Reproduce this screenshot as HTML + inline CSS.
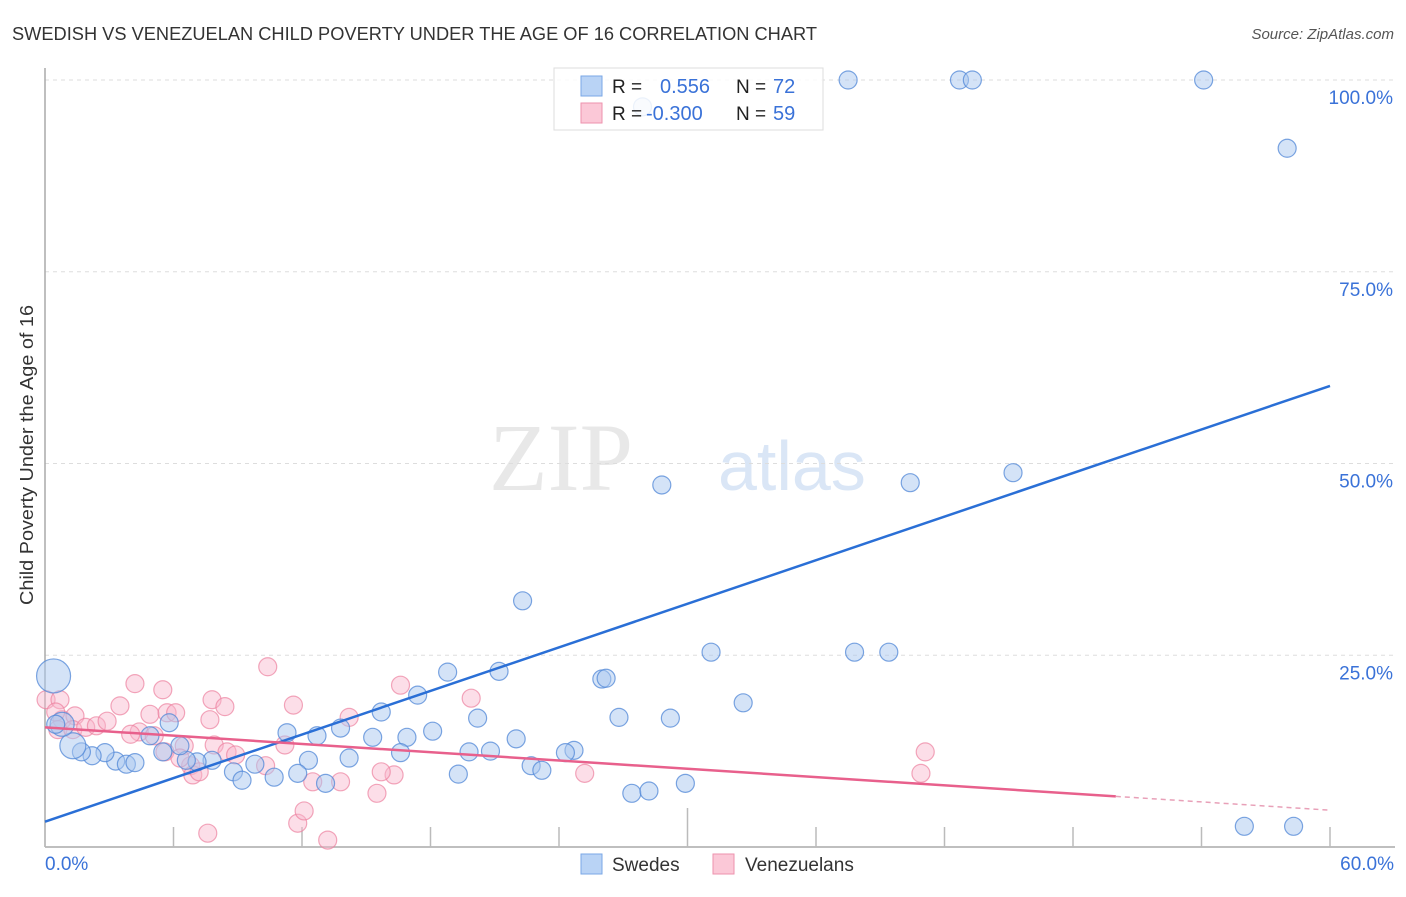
<!DOCTYPE html>
<html><head><meta charset="utf-8"><style>
body{margin:0;background:#fff;font-family:"Liberation Sans",sans-serif}
#c{position:relative;width:1406px;height:892px}
</style></head><body>
<div id="c">
<svg id="s" width="1406" height="892" xmlns="http://www.w3.org/2000/svg">
<text x="12" y="40" font-size="18" fill="#333" textLength="805" lengthAdjust="spacingAndGlyphs">SWEDISH VS VENEZUELAN CHILD POVERTY UNDER THE AGE OF 16 CORRELATION CHART</text>
<text x="1394" y="39" font-size="15" fill="#555" font-style="italic" text-anchor="end">Source: ZipAtlas.com</text>
<text x="633" y="490" font-size="96" fill="#e8e8e8" font-family="Liberation Serif" text-anchor="end">ZIP</text>
<text x="718" y="490" font-size="70" fill="#dae6f6">atlas</text>
<g id="grid"></g>
<line x1="45" y1="68" x2="45" y2="847" stroke="#aaa" stroke-width="1.5"/>
<line x1="45" y1="847" x2="1395" y2="847" stroke="#aaa" stroke-width="1.5"/>
<g id="ticks"></g>
<g id="pts"></g>
<g id="lines"></g>
<text x="33" y="455" font-size="18" fill="#333" text-anchor="middle" textLength="300" lengthAdjust="spacingAndGlyphs" transform="rotate(-90 33 455)">Child Poverty Under the Age of 16</text>
<text x="45" y="870" font-size="19" fill="#3a72d8">0.0%</text>
<text x="1394" y="870" font-size="19" fill="#3a72d8" text-anchor="end">60.0%</text>
<g>
<rect x="554" y="68" width="269" height="62" fill="rgba(255,255,255,0.85)" stroke="#ddd"/>
<rect x="581" y="76" width="21" height="20" fill="#b9d3f5" stroke="#7aa7e6"/>
<rect x="581" y="103" width="21" height="20" fill="#fbc8d7" stroke="#ee92ad"/>
<text x="612" y="93" font-size="19" fill="#222">R =</text>
<text x="660" y="93" font-size="20" fill="#3a72d8">0.556</text>
<text x="736" y="93" font-size="19" fill="#222">N =</text>
<text x="773" y="93" font-size="20" fill="#3a72d8">72</text>
<text x="612" y="120" font-size="19" fill="#222">R =</text>
<text x="646" y="120" font-size="20" fill="#3a72d8">-0.300</text>
<text x="736" y="120" font-size="19" fill="#222">N =</text>
<text x="773" y="120" font-size="20" fill="#3a72d8">59</text>
</g>
<g>
<rect x="581" y="854" width="21" height="20" fill="#b9d3f5" stroke="#7aa7e6"/>
<text x="612" y="871" font-size="19" fill="#333">Swedes</text></g>
<g>
<rect x="713" y="854" width="21" height="20" fill="#fbc8d7" stroke="#ee92ad"/>
<text x="745" y="871" font-size="19" fill="#333">Venezuelans</text></g>
</svg></div>
<script>
const blueX=[37.5,42.7,43.3,54.1,58.0,27.9,28.8,40.4,45.2,22.3,31.1,37.8,39.4,26.0,26.2,18.8,21.2,17.4,32.6,20.2,26.8,29.2,15.7,5.8,11.3,12.7,13.8,15.3,18.1,16.9,14.2,16.6,19.8,20.8,22.0,24.7,24.3,22.7,23.2,19.3,27.4,28.2,29.9,12.3,11.8,10.7,9.8,8.8,9.2,7.8,7.1,6.6,5.5,4.9,6.3,3.3,3.8,4.2,2.8,2.2,1.7,1.3,0.8,0.5,0.4,56.0,58.3,13.1];
const blueY=[100,100,100,100,91.1,96.5,47.2,47.5,48.8,32.1,25.4,25.4,25.4,21.9,22.0,22.8,22.9,19.8,18.8,16.8,16.9,16.8,17.6,16.2,14.9,14.5,15.5,14.3,15.1,14.3,11.6,12.3,12.4,12.5,14.1,12.6,12.3,10.6,10.0,9.5,7.0,7.3,8.3,11.3,9.6,9.1,10.8,9.8,8.7,11.3,11.1,11.3,12.4,14.5,13.2,11.2,10.8,11.0,12.3,11.9,12.4,13.2,16.0,16.0,22.3,2.7,2.7,8.3];
const blueR=[9,9,9,9,9,9,9,9,9,9,9,9,9,9,9,9,9,9,9,9,9,9,9,9,9,9,9,9,9,9,9,9,9,9,9,9,9,9,9,9,9,9,9,9,9,9,9,9,9,9,9,9,9,9,9,9,9,9,9,9,9,13,12,9,17,9,9,9];
const pinkX=[0.05,0.7,0.8,0.5,0.6,1.4,1.3,1.9,2.4,2.9,3.5,4.2,4.4,4.9,5.1,5.5,5.7,6.1,6.5,6.8,6.9,7.2,7.7,7.8,7.9,8.4,8.5,8.9,10.4,10.3,11.2,11.6,11.8,12.1,12.5,13.2,13.8,14.2,15.5,16.3,16.6,15.7,19.9,25.2,40.9,41.1,7.6,4.0,5.6,6.3];
const pinkY=[19.2,19.2,16.6,17.6,15.3,17.1,15.3,15.6,15.8,16.4,18.4,21.3,15.0,17.3,14.5,20.5,17.5,17.5,13.2,10.6,9.4,9.8,16.6,19.2,13.3,18.3,12.4,12.0,23.5,10.6,13.3,18.5,3.1,4.7,8.5,0.9,8.5,16.9,7.0,9.4,21.1,9.8,19.4,9.6,9.6,12.4,1.8,14.7,12.4,11.6];
const yTicks=[25,50,75,100];
const xTicks=[0,6,12,18,24,30,36,42,48,54,60];
const blueLine=[3.3,0.947];
const pinkLine=[15.6,-0.18];
const pinkSolidEnd=50;
const NS="http://www.w3.org/2000/svg";
const X=v=>45+v/60*1285, Y=v=>847-v*7.67;
function mk(t,a,p){const e=document.createElementNS(NS,t);for(const k in a)e.setAttribute(k,a[k]);document.getElementById(p).appendChild(e);return e;}
yTicks.forEach(t=>{
 const g=mk('line',{x1:45,x2:1395,y1:Y(t),y2:Y(t),stroke:'#ddd','stroke-dasharray':'4,4'},'grid');
 
 
 const l=mk('text',{x:1393,y:Y(t)+24,'font-size':19,fill:'#3a72d8','text-anchor':'end'},'grid');l.textContent=t.toFixed(1)+'%';
 
 
});
xTicks.forEach((t,i)=>{
 const e=mk('line',{x1:X(t),x2:X(t),y1:i==5?808:827,y2:847,stroke:'#bbb','stroke-width':1.5},'ticks');
 
 
});
pinkX.forEach((x,i)=>{
 const c=mk('circle',{cx:X(x),cy:Y(pinkY[i]),r:9,fill:'rgba(249,182,203,0.45)',stroke:'rgba(236,130,160,0.7)','stroke-width':1.2},'pts');
 
 
});
blueX.forEach((x,i)=>{
 const c=mk('circle',{cx:X(x),cy:Y(blueY[i]),r:blueR[i],fill:'rgba(170,200,240,0.5)',stroke:'rgba(80,135,215,0.75)','stroke-width':1.2},'pts');
 
 
});
const bl=mk('line',{x1:X(0),y1:Y(blueLine[0]),x2:X(60),y2:Y(blueLine[0]+blueLine[1]*60),stroke:'#2a6fd6','stroke-width':2.5},'lines');


const pl=mk('line',{x1:X(0),y1:Y(pinkLine[0]),x2:X(pinkSolidEnd),y2:Y(pinkLine[0]+pinkLine[1]*pinkSolidEnd),stroke:'#e8608c','stroke-width':2.5},'lines');


const pd=mk('line',{x1:X(pinkSolidEnd),y1:Y(pinkLine[0]+pinkLine[1]*pinkSolidEnd),x2:X(60),y2:Y(pinkLine[0]+pinkLine[1]*60),stroke:'#e8a0b8','stroke-width':1.5,'stroke-dasharray':'5,4'},'lines');


</script>
</body></html>
